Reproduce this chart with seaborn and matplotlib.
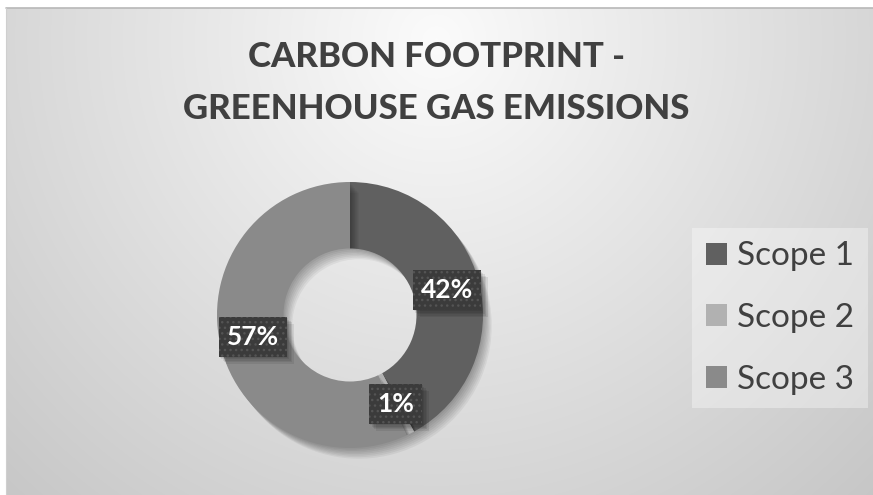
import numpy as np
import matplotlib
matplotlib.use("Agg")
import matplotlib.pyplot as plt
import matplotlib.patheffects as pe
import seaborn as sns

categories = ["Scope 1", "Scope 2", "Scope 3"]
values = [42, 1, 57]
colors = ["#606060", "#b1b1b1", "#8a8a8a"]
title = "CARBON FOOTPRINT -\nGREENHOUSE GAS EMISSIONS"

sns.set_theme(style="white")
plt.rcParams["font.family"] = ["Lato", "DejaVu Sans"]
plt.rcParams["hatch.linewidth"] = 1.0

W, H = 873, 495
fig = plt.figure(figsize=(W / 100, H / 100), dpi=100)
fig.patch.set_facecolor("white")

# background gradient panel
x0, y0 = 6, 8
bg = fig.add_axes([x0 / W, 0, (W - x0) / W, (H - y0) / H])
bg.set_axis_off()
yy, xx = np.mgrid[y0:H, x0:W]
d = np.sqrt((xx - 436.0) ** 2 + ((yy - 40.0) * 1.0) ** 2)
img = 0.985 - 0.205 * d / 626.0
img = np.clip(img, 0, 1)
bg.imshow(np.dstack([img, img, img]), aspect="auto", extent=(0, 1, 0, 1), origin="upper")
bg.set_xlim(0, 1)
bg.set_ylim(0, 1)
fig.add_artist(plt.Line2D([x0 / W, 1], [1 - y0 / H, 1 - y0 / H], color="#b8b8b8", lw=1.2,
                          transform=fig.transFigure))
fig.add_artist(plt.Line2D([x0 / W, x0 / W], [0, 1 - y0 / H], color="#cfcfcf", lw=0.8,
                          transform=fig.transFigure))

# donut
cx, cy, r = 350, 315, 133
ax = fig.add_axes([(cx - r) / W, (H - cy - r) / H, 2 * r / W, 2 * r / H])
ax.set_axis_off()
ax.patch.set_visible(False)
wedges, texts, autotexts = ax.pie(
    values, colors=colors, startangle=90, counterclock=False,
    autopct=lambda p: f"{p:.0f}%", pctdistance=0.75,
    wedgeprops=dict(width=0.5, linewidth=0),
    textprops=dict(color="white", fontsize=19, fontweight="bold"),
)
soft = [pe.SimplePatchShadow(offset=(k * 0.9, -k * 1.1), shadow_rgbFace="#000000", alpha=0.05)
        for k in range(1, 8)]
for w in wedges:
    w.set_path_effects(soft + [pe.Normal()])
ax.set_xlim(-1, 1)
ax.set_ylim(-1, 1)
ax.set_aspect("equal")
box_soft = [pe.SimplePatchShadow(offset=(k, -k), shadow_rgbFace="#000000", alpha=0.08)
            for k in range(1, 6)]
for t in autotexts:
    t.set_zorder(5)
    t.set_bbox(dict(boxstyle="square,pad=0.3", facecolor="#3b3b3b", edgecolor="#545454",
                    linewidth=0, hatch="..."))
    # plain box underneath that carries the drop shadow
    x, y = t.get_position()
    s = ax.text(x, y, t.get_text(), ha="center", va="center", fontsize=19, fontweight="bold",
                color="none", zorder=4,
                bbox=dict(boxstyle="square,pad=0.3", facecolor="#3b3b3b", edgecolor="none",
                          linewidth=0))
    s.get_bbox_patch().set_path_effects(box_soft + [pe.Normal()])

# title
fig.text(0.5, 1 - 83 / H, title, ha="center", va="center", fontsize=25, fontweight="black",
         color="#404040", linespacing=1.75)

# legend
leg = fig.legend(wedges, categories, loc="center", bbox_to_anchor=(780 / W, 1 - 318 / H),
                 fontsize=24, frameon=True, facecolor="white", framealpha=0.35, edgecolor="none",
                 fancybox=False, handlelength=0.65, handleheight=0.65, handletextpad=0.3,
                 labelspacing=0.95, borderpad=0.4, borderaxespad=0)
for t in leg.get_texts():
    t.set_color("#404040")
for h in leg.legend_handles:
    h.set_path_effects([])

fig.savefig("out.png", dpi=100)
